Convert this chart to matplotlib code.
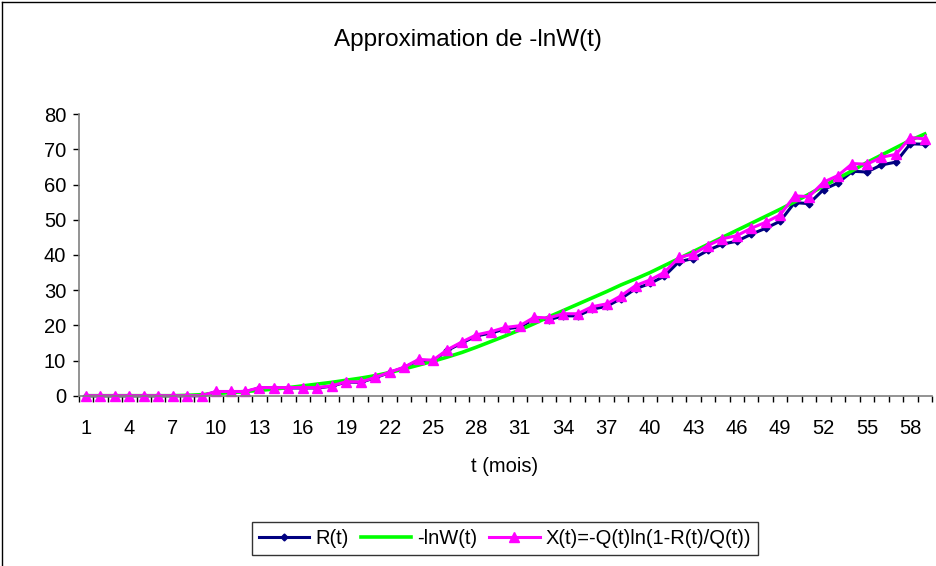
import numpy as np
import matplotlib.pyplot as plt
from matplotlib.lines import Line2D

plt.rcParams['font.family'] = ['Liberation Sans', 'DejaVu Sans']

# data, t = 1..59 months
t = list(range(1, 60))

r_t = [0, 0, 0, 0, 0, 0, 0, 0, 0,
       1.1, 1.1, 1.1, 2.2, 2.2, 2.2, 2.2, 2.2, 2.7, 3.9, 3.8,
       5.1, 6.6, 8.0, 10.1, 9.9, 12.9, 15.0, 17.0, 17.8, 19.0,
       19.5, 21.8, 21.6, 22.7, 22.7, 24.6, 25.4, 27.6, 30.4, 31.9,
       34.0, 38.1, 39.0, 41.3, 43.1, 43.9, 45.9, 47.6, 49.6, 54.9,
       54.6, 58.6, 60.5, 63.8, 63.6, 65.6, 66.4, 71.6, 71.5]

minus_ln_w = [0, 0, 0, 0, 0, 0, 0, 0.1, 0.3,
              0.6, 0.9, 1.2, 1.5, 1.9, 2.3, 2.8, 3.3, 3.8, 4.4, 5.0,
              5.7, 6.6, 7.6, 8.7, 9.8, 11.0, 12.3, 13.8, 15.4, 17.0,
              18.7, 20.5, 22.4, 24.2, 26.0, 27.8, 29.6, 31.5, 33.2, 35.0,
              37.0, 39.0, 41.0, 43.0, 45.0, 47.0, 49.0, 51.0, 53.0, 55.1,
              57.3, 59.6, 61.8, 64.0, 66.3, 68.4, 70.5, 72.6, 74.4]

x_t = [0, 0, 0, 0, 0, 0, 0, 0, 0,
       1.2, 1.2, 1.2, 2.3, 2.3, 2.3, 2.3, 2.3, 2.8, 4.0, 3.9,
       5.2, 6.7, 8.1, 10.3, 10.1, 13.1, 15.3, 17.3, 18.2, 19.4,
       19.9, 22.3, 22.1, 23.3, 23.3, 25.3, 26.1, 28.4, 31.3, 32.9,
       35.1, 39.3, 40.3, 42.7, 44.6, 45.5, 47.6, 49.3, 51.4, 56.8,
       56.6, 60.7, 62.6, 66.0, 65.8, 67.8, 68.6, 73.4, 73.0]

labels = ["R(t)", "-lnW(t)", "X(t)=-Q(t)ln(1-R(t)/Q(t))"]

W, H = 936, 566
fig = plt.figure(figsize=(W / 100, H / 100), dpi=100)

# plot area in pixels: x 78.7..932, y 114.3..395.7
left, right, top, bottom = 78.7, 932, 114.3, 395.7
ax = fig.add_axes([left / W, 1 - bottom / H, (right - left) / W, (bottom - top) / H])

ax.plot(t, r_t, color="#000080", lw=2.2, marker="D", ms=3.5, clip_on=False, label=labels[0])
ax.plot(t, minus_ln_w, color="#00FF00", lw=2.6, clip_on=False, label=labels[1])
ax.plot(t, x_t, color="#FF00FF", lw=2.2, marker="^", ms=7, clip_on=False, label=labels[2])

ax.set_xlim(0.5, 59.5)
ax.set_ylim(0, 80)

# category axis: tick marks between categories, a label every 3rd one
ax.set_xticks(t[::3])
ax.set_xticklabels([str(v) for v in t[::3]])
ax.set_xticks(np.arange(0.5, 60, 1), minor=True)
ax.tick_params(axis="x", which="major", length=0, pad=17, labelsize=14.5)
ax.tick_params(axis="x", which="minor", length=4, direction="out", width=1)
ax.set_yticks(range(0, 81, 10))
ax.tick_params(axis="y", length=4, direction="out", width=1, pad=5, labelsize=14.5)

for side in ["top", "right"]:
    ax.spines[side].set_visible(False)
for side in ["left", "bottom"]:
    ax.spines[side].set_color("#808080")
    ax.spines[side].set_linewidth(1.2)

fig.text(468 / W, 1 - 40 / H, "Approximation de -lnW(t)", ha="center", va="center", fontsize=17.5)
fig.text(505 / W, 1 - 466 / H, "t (mois)", ha="center", va="center", fontsize=14.5)

leg = fig.legend(loc="center", bbox_to_anchor=(505 / W, 1 - 538.5 / H), ncol=3,
                 fontsize=14.5, frameon=True, fancybox=False, edgecolor="black",
                 handlelength=2.5, handletextpad=0.3, columnspacing=0.6,
                 borderpad=0.35, borderaxespad=0)
leg.get_frame().set_linewidth(1.0)

# chart area border (left and top visible)
fig.add_artist(Line2D([1.5 / W, 1.5 / W], [0, 1 - 1.5 / H], color="black", lw=1, transform=fig.transFigure))
fig.add_artist(Line2D([1.5 / W, 1], [1 - 1.5 / H, 1 - 1.5 / H], color="black", lw=1, transform=fig.transFigure))

fig.savefig("out.png", dpi=100)
